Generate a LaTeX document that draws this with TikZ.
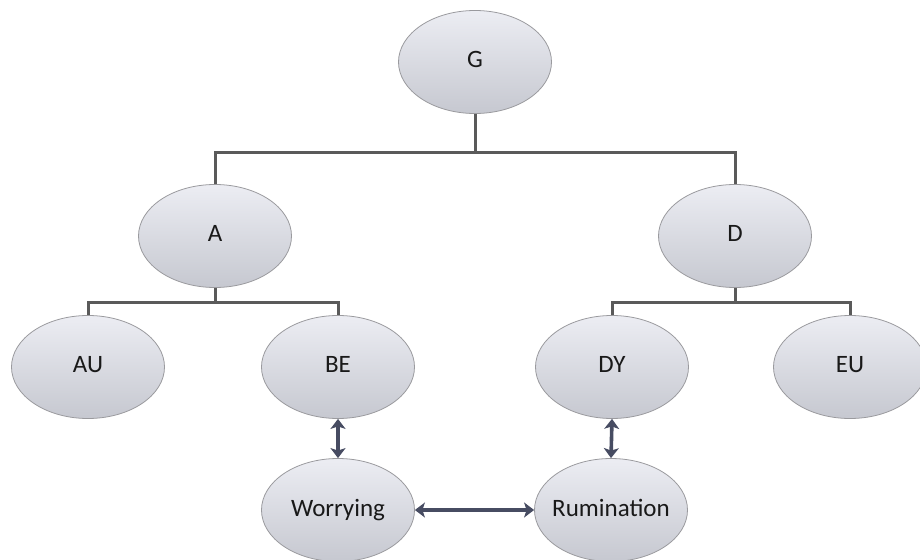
\documentclass[tikz,border=0pt]{standalone}
\usepackage{fontspec}
\setmainfont{Carlito}
\usetikzlibrary{shapes.geometric,arrows.meta}
\definecolor{ovaltop}{HTML}{ECEDF3}
\definecolor{ovalbot}{HTML}{C6C8D0}
\definecolor{ovalrim}{HTML}{9A9A9E}
\definecolor{treeline}{HTML}{5A5A5A}
\definecolor{linkcol}{HTML}{474C62}
% label set in a zero-width box of fixed height so every oval keeps the same size
% and every label sits on the same baseline
\newcommand{\ovaltext}[1]{\makebox[0pt]{\vphantom{Agy}#1}}
\tikzset{
  oval/.style={ellipse, draw=ovalrim, line width=0.8pt, top color=ovaltop, bottom color=ovalbot,
    minimum width=153pt, minimum height=103pt, inner sep=0pt,
    font=\fontsize{25}{30}\selectfont, text=black!90},
  branch/.style={draw=treeline, line width=3pt},
  link/.style={draw=linkcol, line width=3.6pt,
    {Stealth[length=10pt,width=15pt,inset=2.5pt]}-{Stealth[length=10pt,width=15pt,inset=2.5pt]}}
}
\begin{document}
\begin{tikzpicture}[x=1pt,y=-1pt]
\useasboundingbox (0,0) rectangle (920,559);
% ovals
\node[oval] (G)  at (475,62)  {\ovaltext{G}};
\node[oval] (A)  at (215,236) {\ovaltext{A}};
\node[oval] (D)  at (735,236) {\ovaltext{D}};
\node[oval] (AU) at (88,367)  {\ovaltext{AU}};
\node[oval] (BE) at (338,367) {\ovaltext{BE}};
\node[oval] (DY) at (612,367) {\ovaltext{DY}};
\node[oval] (EU) at (850,367) {\ovaltext{EU}};
\node[oval] (W)  at (338,510) {\ovaltext{Worrying}};
\node[oval] (R)  at (611,510) {\ovaltext{Rumination}};
% tree branches
\coordinate (gbar) at (475,152);
\coordinate (abar) at (215,302);
\coordinate (dbar) at (735,302);
\draw[branch] (G.south) -- (gbar);
\draw[branch] (A.north) |- (gbar) -| (D.north);
\draw[branch] (A.south) -- (abar);
\draw[branch] (AU.north) |- (abar) -| (BE.north);
\draw[branch] (D.south) -- (dbar);
\draw[branch] (DY.north) |- (dbar) -| (EU.north);
% two-way links
\draw[link] (BE.south) -- (W.north);
\draw[link] (DY.south) -- (R.north);
\draw[link] (W.east) -- (R.west);
\end{tikzpicture}
\end{document}
